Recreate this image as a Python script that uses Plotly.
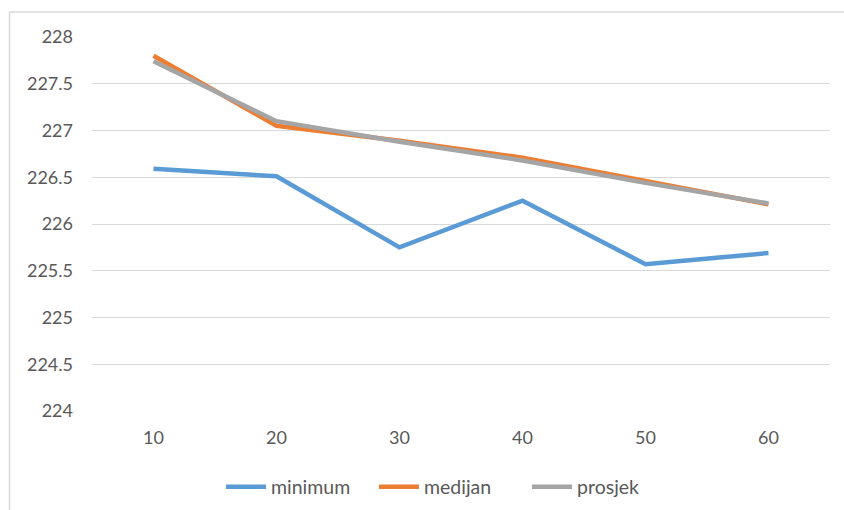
import plotly.graph_objects as go

# Category labels along the x axis
categories = ["10", "20", "30", "40", "50", "60"]

# Series values
minimum = [226.59, 226.51, 225.75, 226.25, 225.57, 225.69]
medijan = [227.80, 227.05, 226.89, 226.71, 226.46, 226.21]
prosjek = [227.74, 227.10, 226.88, 226.68, 226.44, 226.22]

# Y axis ticks
y_ticks = [224, 224.5, 225, 225.5, 226, 226.5, 227, 227.5, 228]
y_tick_text = ["224", "224.5", "225", "225.5", "226", "226.5", "227", "227.5", "228"]

series = [
    ("minimum", minimum, "#5b9bd5"),
    ("medijan", medijan, "#ed7d31"),
    ("prosjek", prosjek, "#a5a5a5"),
]

fig = go.Figure()
for name, vals, color in series:
    fig.add_trace(go.Scatter(
        x=categories, y=vals, name=name, mode="lines",
        line=dict(color=color, width=4.5),
    ))

W, H = 844, 510
L, R, T, B = 92, 14, 37, 99
pw, ph = W - L - R, H - T - B

def px_to_paper_x(px):
    return (px - L) / pw

def px_to_paper_y(py):
    return (H - B - py) / ph

fig.update_layout(
    width=W, height=H,
    margin=dict(l=L, r=R, t=T, b=B),
    paper_bgcolor="white", plot_bgcolor="white",
    font=dict(family="Lato, 'Open Sans', sans-serif", size=18, color="#595959"),
    showlegend=True,
    legend=dict(
        orientation="h", xref="container", yref="container",
        x=(227 - 6) / W, xanchor="left",
        y=(H - 487) / H, yanchor="middle",
        font=dict(size=19.5, color="#595959"),
        itemwidth=40, tracegroupgap=0, entrywidth=98,
    ),
    xaxis=dict(
        type="category", range=[-0.5, 5.5], automargin=False,
        showgrid=False, zeroline=False, showline=False,
        ticks="", ticklabelstandoff=14,
    ),
    yaxis=dict(
        range=[224, 228], tickvals=y_ticks, ticktext=y_tick_text, automargin=False,
        showgrid=True, gridcolor="#d9d9d9", gridwidth=1.3,
        zeroline=False, showline=False, ticks="", ticklabelstandoff=18,
    ),
    shapes=[dict(
        type="rect", xref="paper", yref="paper",
        x0=px_to_paper_x(9.5), x1=px_to_paper_x(860),
        y0=px_to_paper_y(530), y1=px_to_paper_y(12),
        line=dict(color="#d9d9d9", width=1.5), fillcolor="rgba(0,0,0,0)",
        layer="below",
    )],
)

fig.write_html("out.html")
